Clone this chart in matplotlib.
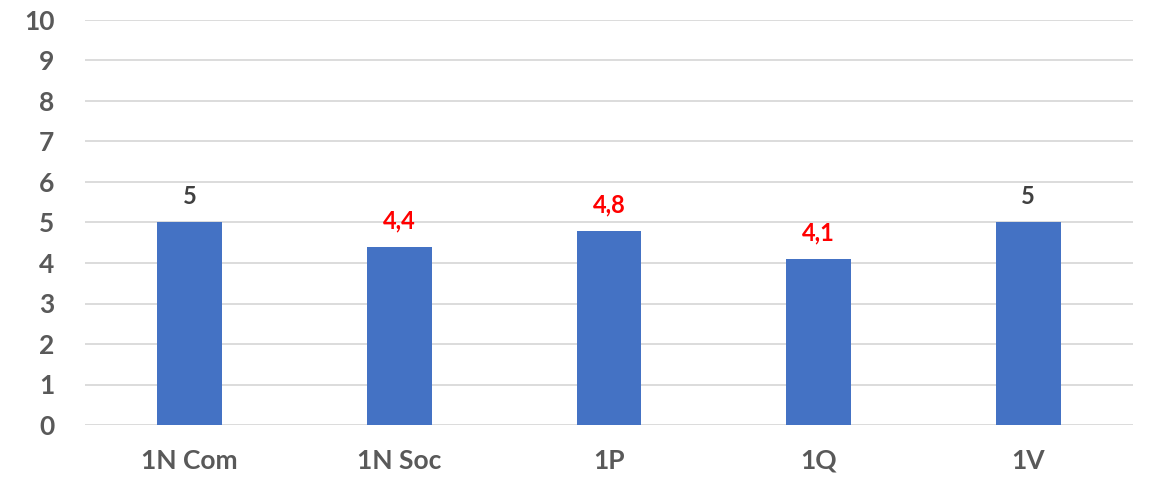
import matplotlib
matplotlib.use("Agg")
import matplotlib.pyplot as plt

categories = ["1N Com", "1N Soc", "1P", "1Q", "1V"]
values = [5, 4.4, 4.8, 4.1, 5]
labels = ["5", "4,4", "4,8", "4,1", "5"]
label_colors = ["#404040", "#FF0000", "#FF0000", "#FF0000", "#404040"]
yticks = list(range(0, 11))

plt.rcParams['font.family'] = ['Lato', 'DejaVu Sans']

fig = plt.figure(figsize=(11.53, 4.83), dpi=100)
ax = fig.add_axes([85/1153, 1 - 425/483, (1133-85)/1153, (425-20)/483])

x = list(range(len(categories)))
ax.bar(x, values, width=0.31, color="#4472C4", zorder=3)
ax.set_xlim(-0.5, len(categories) - 0.5)
ax.set_ylim(0, 10)
ax.set_yticks(yticks)
ax.set_yticklabels([str(t) for t in yticks], fontsize=19, fontweight="bold", color="#595959")
ax.set_xticks(x)
ax.set_xticklabels(categories, fontsize=19, fontweight="bold", color="#595959")
ax.tick_params(axis="both", length=0)
ax.tick_params(axis="y", pad=22)
ax.tick_params(axis="x", pad=17)
ax.grid(axis="y", color="#D9D9D9", linewidth=1.3, zorder=0)
for s in ax.spines.values():
    s.set_visible(False)
for i, v in enumerate(values):
    ax.annotate(labels[i], (x[i], v), xytext=(0, 13), textcoords="offset points",
                ha="center", va="baseline", fontsize=17, fontweight="bold", color=label_colors[i])

fig.savefig("out.png", dpi=100)
